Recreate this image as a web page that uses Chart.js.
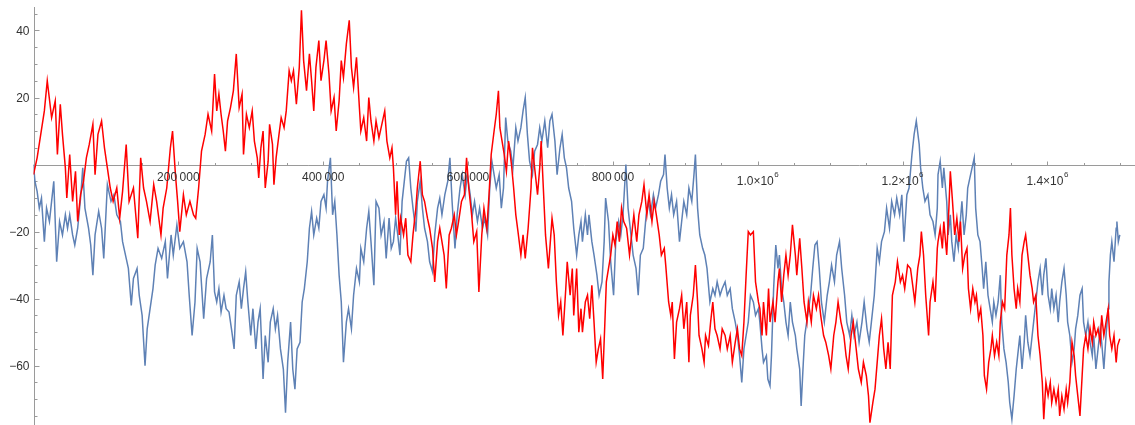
<!DOCTYPE html>
<html>
<head>
<meta charset="utf-8">
<script src="https://cdn.jsdelivr.net/npm/chart.js@4.4.1/dist/chart.umd.min.js"></script>
<style>
  html, body { margin: 0; padding: 0; background: #ffffff; }
  #wrap { position: relative; width: 1135px; height: 425px; }
</style>
</head>
<body>
<div id="wrap"><canvas id="c"></canvas></div>
<script>
// x values are in thousands of steps
const redX = [
  0,5,10,15,19,25,30,33,37,40,44,46,50,54,58,61,65,69,73,77,82,85,89,94,98,102,106,110,115,119,123,128,132,138,144,148,152,156,161,166,170,176,179,184,189,192,196,199,202,207,211,216,221,224,228,232,237,241,246,250,
  253,256,259,262,265,268,272,276,280,284,288,290,294,298,302,305,309,311,314,317,320,324,326,330,332,335,339,342,346,349,353,356,359,363,367,370,373,377,381,384,387,390,394,397,401,404,408,411,415,418,422,425,428,432,436,439,442,446,450,452,456,460,463,466,470,473,477,481,485,488,492,495,497,500,
  502,505,507,511,514,517,521,524,528,530,534,537,540,544,547,551,554,558,561,564,567,570,574,577,581,584,587,591,595,598,601,605,608,612,615,619,622,626,629,632,636,639,642,644,647,650,653,656,660,663,666,669,673,676,679,683,687,689,692,696,699,701,704,707,711,713,716,719,722,725,728,731,735,737,741,744,746,750,
  753,756,758,762,765,768,771,774,777,780,783,786,789,791,794,797,800,803,806,809,812,815,819,823,826,829,833,836,840,843,847,850,854,857,860,864,867,871,873,877,880,882,885,888,892,895,898,902,905,907,911,914,917,919,923,926,928,932,935,938,941,944,948,951,955,958,962,965,969,972,975,978,981,984,987,990,994,997,1001,
  1003,1006,1008,1012,1015,1017,1021,1024,1028,1030,1033,1036,1039,1042,1045,1048,1052,1054,1058,1061,1064,1068,1070,1074,1077,1081,1084,1087,1091,1094,1098,1101,1105,1108,1111,1115,1119,1122,1125,1129,1132,1136,1139,1143,1146,1150,1153,1155,1159,1162,1165,1168,1171,1174,1177,1180,1183,1186,1190,1193,1197,1200,1203,1207,1211,1214,1217,1221,1224,1226,1229,1232,1236,1238,1242,1245,1248,
  1249,1252,1255,1257,1261,1264,1266,1269,1272,1275,1278,1280,1283,1286,1289,1291,1294,1297,1300,1302,1305,1308,1311,1313,1316,1319,1322,1324,1327,1330,1333,1335,1338,1341,1344,1347,1349,1351,1354,1357,1359,1362,1365,1368,1370,1373,1376,1379,1381,1384,1387,1390,1393,1395,1398,1401,1404,1406,1409,1412,1415,1417,1420,1423,1426,1428,1431,1434,1437,1439,1442,1445,1448,1450,1453,1456,1459,1462,1464,1467,1470,1473,1475,1478,1481,1484,1486,1489,1492,1495,1497,1500
];
const redY = [
  -3,2,9,16,25,14,19,3,18,9,-1,-10,3,-11,-2,-17,-9,-5,2,6,12,-3,9,13,5,-1,-7,-11,-7,-16,-8,6,-11,-7,-22,2,-7,-11,-17,-6,-11,-21,-13,-7,5,10,-3,-11,-20,-9,-15,-11,-15,-16,-7,4,9,15,10,27,
  16,21,15,10,4,13,17,22,33,17,21,3,15,11,16,7,2,-4,5,10,-7,1,12,6,-6,2,9,14,11,16,28,25,28,18,29,46,31,22,33,25,16,29,37,25,31,37,27,16,20,10,19,31,26,36,43,29,23,32,17,10,14,7,20,13,7,13,8,12,16,7,2,5,-1,-15,
  -5,-21,-16,-21,-16,-27,-29,-21,-13,-7,1,-9,-11,-16,-19,-25,-35,-23,-19,-23,-27,-37,-21,-19,-15,-21,-17,-11,-9,2,-7,-15,-23,-20,-38,-21,-13,-19,-9,3,10,15,22,11,7,3,-2,7,0,-7,-15,-20,-27,-21,-28,-19,-7,5,-1,-9,-1,7,-7,-21,-31,-25,-16,-21,-35,-45,-41,-51,-37,-29,-39,-31,-45,-31,
  -50,-43,-50,-41,-39,-46,-36,-47,-59,-55,-52,-64,-47,-35,-31,-27,-21,-24,-17,-23,-13,-17,-19,-27,-21,-15,-23,-15,-11,-6,-15,-9,-17,-11,-15,-21,-27,-25,-30,-41,-45,-41,-58,-47,-43,-39,-49,-41,-59,-45,-39,-30,-41,-51,-55,-59,-51,-54,-47,-41,-49,-51,-55,-49,-51,-55,-51,-59,-53,-49,-55,-57,-47,-33,-20,-21,-20,-35,-41,
  -43,-51,-41,-51,-37,-47,-41,-47,-35,-31,-41,-33,-27,-33,-27,-18,-27,-33,-22,-31,-41,-47,-41,-47,-39,-43,-39,-45,-51,-53,-57,-61,-51,-47,-41,-47,-51,-57,-61,-51,-47,-55,-61,-65,-59,-63,-69,-77,-71,-67,-59,-51,-46,-55,-61,-53,-61,-39,-35,-29,-35,-33,-37,-30,-31,-36,-41,-31,-27,-20,-27,-39,-51,-41,-35,-41,-25,
  -23,-19,-25,-17,-27,-13,-2,-11,-21,-16,-23,-17,-31,-27,-25,-37,-43,-37,-41,-39,-46,-43,-51,-63,-67,-59,-55,-51,-57,-53,-57,-47,-41,-43,-27,-21,-13,-27,-37,-43,-37,-41,-27,-23,-21,-27,-33,-37,-41,-39,-51,-57,-65,-76,-65,-69,-65,-71,-67,-71,-67,-75,-69,-73,-67,-71,-65,-53,-57,-63,-69,-75,-63,-55,-51,-55,-49,-53,-47,-51,-49,-53,-45,-51,-47,-43,-51,-55,-51,-59,-54,-52
];
const blueX = [
  0,2,5,8,11,15,18,22,25,28,32,36,40,44,47,50,54,57,61,65,68,71,76,79,82,85,90,94,97,102,107,111,115,120,123,128,131,135,138,143,146,150,154,157,161,165,168,172,177,182,185,190,193,198,202,207,212,215,219,223,226,230,235,239,244,247,250,
  253,256,259,263,266,270,274,277,280,284,287,290,293,296,300,303,307,310,313,317,320,324,327,331,334,337,341,345,348,351,355,358,361,364,368,371,374,378,381,384,387,391,394,397,401,404,406,410,413,416,419,422,425,428,432,435,439,442,446,450,452,456,460,463,466,470,473,477,480,484,487,491,494,497,500,
  503,506,509,512,515,518,521,524,528,530,534,537,540,544,547,551,554,558,561,564,568,572,575,578,582,585,589,592,596,599,603,606,609,613,616,620,623,627,630,633,636,639,643,646,649,652,655,659,662,666,669,673,676,679,682,685,689,692,696,699,702,706,710,713,716,720,723,727,730,733,736,739,743,746,750,
  753,756,758,762,765,767,771,774,778,781,785,788,790,794,797,801,804,808,811,814,818,821,825,828,832,835,838,842,846,849,852,856,859,863,866,870,872,875,878,881,884,888,892,895,898,902,905,909,912,914,917,920,924,927,930,934,938,941,944,948,951,955,958,962,965,969,972,975,978,981,984,987,990,994,997,1001,
  1003,1006,1008,1012,1014,1017,1019,1022,1025,1028,1030,1033,1036,1039,1042,1045,1048,1052,1054,1058,1060,1063,1065,1069,1073,1076,1079,1082,1085,1088,1092,1096,1099,1102,1106,1109,1113,1116,1120,1123,1127,1130,1133,1137,1140,1144,1147,1151,1154,1157,1161,1165,1168,1171,1175,1178,1182,1185,1189,1192,1196,1199,1202,1206,1209,1213,1216,1219,1223,1225,1228,1231,1235,1238,1242,1245,1248,
  1249,1252,1255,1257,1261,1263,1266,1268,1271,1274,1277,1279,1282,1285,1288,1290,1293,1296,1299,1301,1304,1307,1310,1312,1315,1318,1321,1324,1326,1329,1332,1335,1337,1340,1343,1346,1348,1351,1354,1357,1359,1362,1365,1368,1370,1373,1376,1379,1381,1384,1387,1390,1393,1395,1398,1401,1404,1406,1409,1412,1415,1417,1420,1423,1426,1428,1431,1434,1437,1439,1442,1445,1448,1450,1453,1456,1459,1462,1464,1467,1470,1473,1475,1478,1481,1484,1485,1487,1489,1492,1495,1496,1498,1500
];
const blueY = [
  0,-5,-8,-13,-10,-23,-13,-17,-11,-5,-29,-17,-21,-15,-19,-15,-21,-24,-19,-10,-1,-13,-19,-24,-33,-21,-14,-19,-28,-6,-11,-9,-15,-17,-23,-28,-31,-42,-34,-31,-39,-45,-60,-49,-43,-37,-30,-25,-28,-23,-34,-21,-27,-18,-25,-23,-29,-39,-51,-41,-25,-29,-46,-34,-29,-21,-38,
  -41,-37,-44,-39,-43,-44,-50,-55,-39,-35,-43,-37,-32,-41,-51,-43,-55,-47,-43,-64,-51,-59,-47,-43,-49,-45,-55,-61,-74,-59,-47,-61,-67,-55,-53,-41,-37,-29,-19,-14,-21,-16,-19,-11,-9,-13,-5,2,-15,-11,-21,-33,-41,-59,-47,-43,-49,-39,-31,-35,-25,-29,-19,-14,-23,-36,-11,-13,-21,-17,-28,-16,-25,-23,-16,
  -21,-27,-11,-5,1,2,-7,-13,-20,-11,-5,-13,-19,-23,-29,-32,-21,-13,-10,-15,-9,-5,2,-11,-25,-15,-7,-3,-9,-3,-9,-15,-11,-17,-13,-19,-16,-21,-7,1,-3,-7,-3,-13,-7,14,7,4,-1,11,7,11,16,20,9,1,-3,4,6,11,7,13,5,13,15,7,-3,5,9,2,-1,-7,-11,-19,-27,
  -21,-17,-23,-15,-21,-15,-23,-27,-33,-39,-35,-23,-10,-17,-29,-39,-23,-17,-21,-15,0,-13,-21,-27,-31,-39,-27,-25,-15,-11,-15,-9,-13,-9,-5,-3,3,-7,-13,-9,-15,-11,-23,-17,-11,-15,-7,-11,-3,3,-13,-21,-25,-27,-31,-41,-37,-39,-35,-39,-37,-35,-39,-37,-43,-47,-51,-57,-65,-55,-51,-47,-39,-41,-45,-43,
  -47,-55,-59,-57,-64,-66,-57,-37,-24,-31,-27,-37,-41,-47,-51,-41,-47,-51,-55,-61,-72,-59,-51,-45,-39,-31,-24,-23,-31,-41,-47,-39,-35,-30,-35,-27,-23,-31,-39,-47,-51,-45,-51,-47,-53,-47,-41,-49,-53,-47,-39,-25,-29,-23,-20,-13,-19,-11,-15,-10,-15,-9,-23,-9,-7,3,9,13,6,-1,-7,-11,-9,-15,-17,-21,-13,
  -3,1,-7,-1,-11,-21,-15,-23,-29,-21,-25,-19,-11,-21,-15,-7,-4,-1,2,-13,-21,-23,-31,-37,-29,-39,-43,-47,-41,-45,-41,-33,-47,-55,-59,-65,-71,-76,-69,-61,-57,-51,-61,-53,-45,-53,-57,-51,-47,-41,-35,-31,-39,-33,-28,-39,-43,-37,-43,-39,-47,-41,-35,-31,-39,-47,-51,-59,-55,-49,-45,-39,-37,-47,-51,-47,-53,-57,-51,-61,-55,-49,-53,-61,-51,-43,-35,-27,-23,-29,-19,-17,-23,-21
];

// axis ticks (x in thousands)
const xTicksMajor = [200, 400, 600, 800, 1000, 1200, 1400];
const xLabelBase = ["200\u2009000", "400\u2009000", "600\u2009000", "800\u2009000", "1.0\u00d710", "1.2\u00d710", "1.4\u00d710"];
const xLabelExp = ["", "", "", "", "6", "6", "6"];
const xTicksMinor = [50,100,150,250,300,350,450,500,550,650,700,750,850,900,950,1050,1100,1150,1250,1300,1350,1450,1500];
const yTicksMajor = [40, 20, 0, -20, -40, -60];
const yLabels = ["40", "20", "", "\u221220", "\u221240", "\u221260"];
const yTicksMinor = [45,35,30,25,15,10,5,-5,-10,-15,-25,-30,-35,-45,-50,-55,-65,-70,-75];

function pts(xs, ys) {
  const n = Math.min(xs.length, ys.length);
  const out = [];
  for (let i = 0; i < n; i++) out.push({ x: xs[i], y: ys[i] });
  return out;
}

const AXIS = '#9a9a9a';
const LABEL = '#333333';
const FONT = '12px "Liberation Sans", Arial, sans-serif';
const SUPFONT = '8px "Liberation Sans", Arial, sans-serif';

const axesPlugin = {
  id: 'mmaAxes',
  beforeDatasetsDraw(chart) {
    const { ctx, chartArea, scales } = chart;
    const xs = scales.x, ys = scales.y;
    const x0 = Math.round(xs.getPixelForValue(0)) + 0.5;
    const y0 = Math.round(ys.getPixelForValue(0)) + 0.5;
    ctx.save();
    ctx.strokeStyle = AXIS;
    ctx.lineWidth = 1;
    ctx.beginPath();
    ctx.moveTo(chartArea.left, y0); ctx.lineTo(chartArea.right, y0);
    ctx.moveTo(x0, chartArea.top); ctx.lineTo(x0, chartArea.bottom);
    xTicksMajor.forEach(v => {
      const px = Math.round(xs.getPixelForValue(v)) + 0.5;
      ctx.moveTo(px, y0); ctx.lineTo(px, y0 - 4);
    });
    xTicksMinor.forEach(v => {
      const px = Math.round(xs.getPixelForValue(v)) + 0.5;
      ctx.moveTo(px, y0); ctx.lineTo(px, y0 - 2.5);
    });
    yTicksMajor.forEach(v => {
      const py = Math.round(ys.getPixelForValue(v)) + 0.5;
      ctx.moveTo(x0, py); ctx.lineTo(x0 + 5, py);
    });
    yTicksMinor.forEach(v => {
      const py = Math.round(ys.getPixelForValue(v)) + 0.5;
      ctx.moveTo(x0, py); ctx.lineTo(x0 + 3, py);
    });
    ctx.stroke();
    ctx.restore();
  },
  afterDatasetsDraw(chart) {
    const { ctx, scales } = chart;
    const xs = scales.x, ys = scales.y;
    const x0 = xs.getPixelForValue(0);
    const y0 = ys.getPixelForValue(0);
    ctx.save();
    ctx.fillStyle = LABEL;
    ctx.font = FONT;
    ctx.textAlign = 'right';
    ctx.textBaseline = 'alphabetic';
    yTicksMajor.forEach((v, i) => {
      if (!yLabels[i]) return;
      ctx.fillText(yLabels[i], x0 - 4, ys.getPixelForValue(v) + 4.5);
    });
    ctx.textAlign = 'left';
    xTicksMajor.forEach((v, i) => {
      const cx = xs.getPixelForValue(v);
      ctx.font = FONT;
      const wb = ctx.measureText(xLabelBase[i]).width;
      let we = 0;
      if (xLabelExp[i]) { ctx.font = SUPFONT; we = ctx.measureText(xLabelExp[i]).width + 0.5; }
      const left = cx - (wb + we) / 2;
      const base = xLabelExp[i] ? y0 + 20 : y0 + 16;
      ctx.font = FONT;
      ctx.fillText(xLabelBase[i], left, base);
      if (xLabelExp[i]) {
        ctx.font = SUPFONT;
        ctx.fillText(xLabelExp[i], left + wb + 0.5, base - 7.5);
      }
    });
    ctx.restore();
  }
};

new Chart(document.getElementById('c'), {
  type: 'line',
  data: {
    datasets: [
      { label: 'red', data: pts(redX, redY), borderColor: '#ff0000', borderWidth: 1.5, pointRadius: 0, tension: 0, fill: false, order: 0 },
      { label: 'blue', data: pts(blueX, blueY), borderColor: '#5e81b5', borderWidth: 1.5, pointRadius: 0, tension: 0, fill: false, order: 1 }
    ]
  },
  options: {
    animation: false,
    responsive: true,
    maintainAspectRatio: false,
    layout: { padding: { left: 33.5, top: 7, right: 0, bottom: 0 } },
    scales: {
      x: { type: 'linear', min: 0, max: 1521, display: false },
      y: { type: 'linear', min: -77.7, max: 47, display: false }
    },
    plugins: { legend: { display: false }, tooltip: { enabled: false } },
    events: []
  },
  plugins: [axesPlugin]
});
</script>
</body>
</html>
